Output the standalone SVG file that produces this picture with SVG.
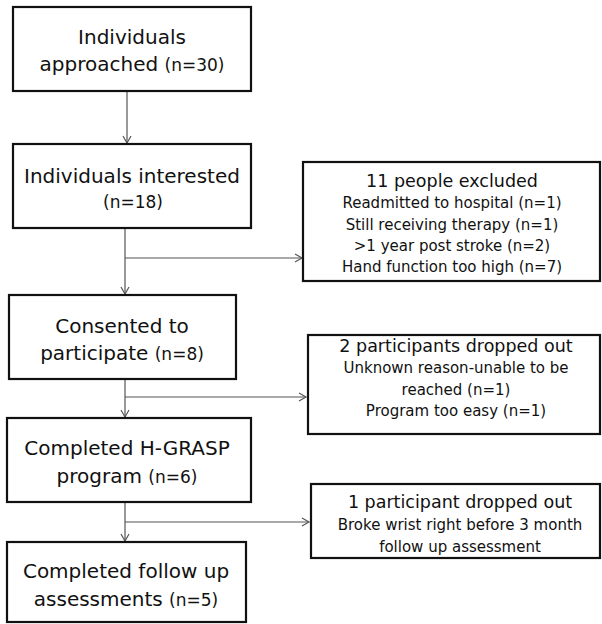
<svg xmlns="http://www.w3.org/2000/svg" width="602" height="624" viewBox="0 0 602 624">
<defs>
<style>
.box{fill:#fff;stroke:#111;stroke-width:2.2}
.c{fill:none;stroke:#555;stroke-width:1.2}
text{font-family:"DejaVu Sans",Verdana,sans-serif;fill:#111;text-anchor:middle}
.m{font-size:20px}
.n{font-size:17px}
.h{font-size:17.5px}
.s{font-size:15px}
</style>
<marker id="ah" markerUnits="userSpaceOnUse" markerWidth="12" markerHeight="12" viewBox="-9 -6 12 12" refX="0" refY="0" orient="auto">
<path d="M-7,-4 L0,0 L-7,4" fill="none" stroke="#555" stroke-width="1.2"/>
</marker>
</defs>
<rect width="602" height="624" fill="#fff"/>
<g id="connectors">
<path class="c" d="M127,91 V143" marker-end="url(#ah)"/>
<path class="c" d="M125,228 V294" marker-end="url(#ah)"/>
<path class="c" d="M125,258 H302" marker-end="url(#ah)"/>
<path class="c" d="M125,379 V417" marker-end="url(#ah)"/>
<path class="c" d="M125,397 H306" marker-end="url(#ah)"/>
<path class="c" d="M125,502 V541" marker-end="url(#ah)"/>
<path class="c" d="M125,522 H309" marker-end="url(#ah)"/>
</g>
<g id="approached">
<rect class="box" x="13" y="7" width="238" height="84"/>
<text class="m" x="132" y="44">Individuals</text>
<text x="132" y="71"><tspan class="m">approached </tspan><tspan class="n">(n=30)</tspan></text>
</g>
<g id="interested">
<rect class="box" x="13" y="144" width="238" height="84"/>
<text class="m" x="132" y="183">Individuals interested</text>
<text class="n" x="133" y="208">(n=18)</text>
</g>
<g id="excluded">
<rect class="box" x="303" y="162" width="297" height="119"/>
<text class="h" x="452" y="187">11 people excluded</text>
<text class="s" x="452" y="208">Readmitted to hospital (n=1)</text>
<text class="s" x="452" y="230">Still receiving therapy (n=1)</text>
<text class="s" x="452" y="251">&gt;1 year post stroke (n=2)</text>
<text class="s" x="452" y="272">Hand function too high (n=7)</text>
</g>
<g id="consented">
<rect class="box" x="9" y="295" width="227" height="84"/>
<text class="m" x="122" y="333">Consented to</text>
<text x="122" y="360"><tspan class="m">participate </tspan><tspan class="n">(n=8)</tspan></text>
</g>
<g id="dropped2">
<rect class="box" x="308" y="335" width="292" height="99"/>
<text class="h" x="456" y="352">2 participants dropped out</text>
<text class="s" x="456" y="373">Unknown reason-unable to be</text>
<text class="s" x="456" y="395">reached (n=1)</text>
<text class="s" x="456" y="416">Program too easy (n=1)</text>
</g>
<g id="completed">
<rect class="box" x="7" y="418" width="244" height="84"/>
<text class="m" x="127" y="455">Completed H-GRASP</text>
<text x="127" y="483"><tspan class="m">program </tspan><tspan class="n">(n=6)</tspan></text>
</g>
<g id="dropped1">
<rect class="box" x="311" y="484" width="289" height="74"/>
<text class="h" x="460" y="508">1 participant dropped out</text>
<text class="s" x="460" y="530">Broke wrist right before 3 month</text>
<text class="s" x="460" y="552">follow up assessment</text>
</g>
<g id="followup">
<rect class="box" x="7" y="542" width="239" height="80"/>
<text class="m" x="126" y="578">Completed follow up</text>
<text x="126" y="606"><tspan class="m">assessments </tspan><tspan class="n">(n=5)</tspan></text>
</g>
</svg>
